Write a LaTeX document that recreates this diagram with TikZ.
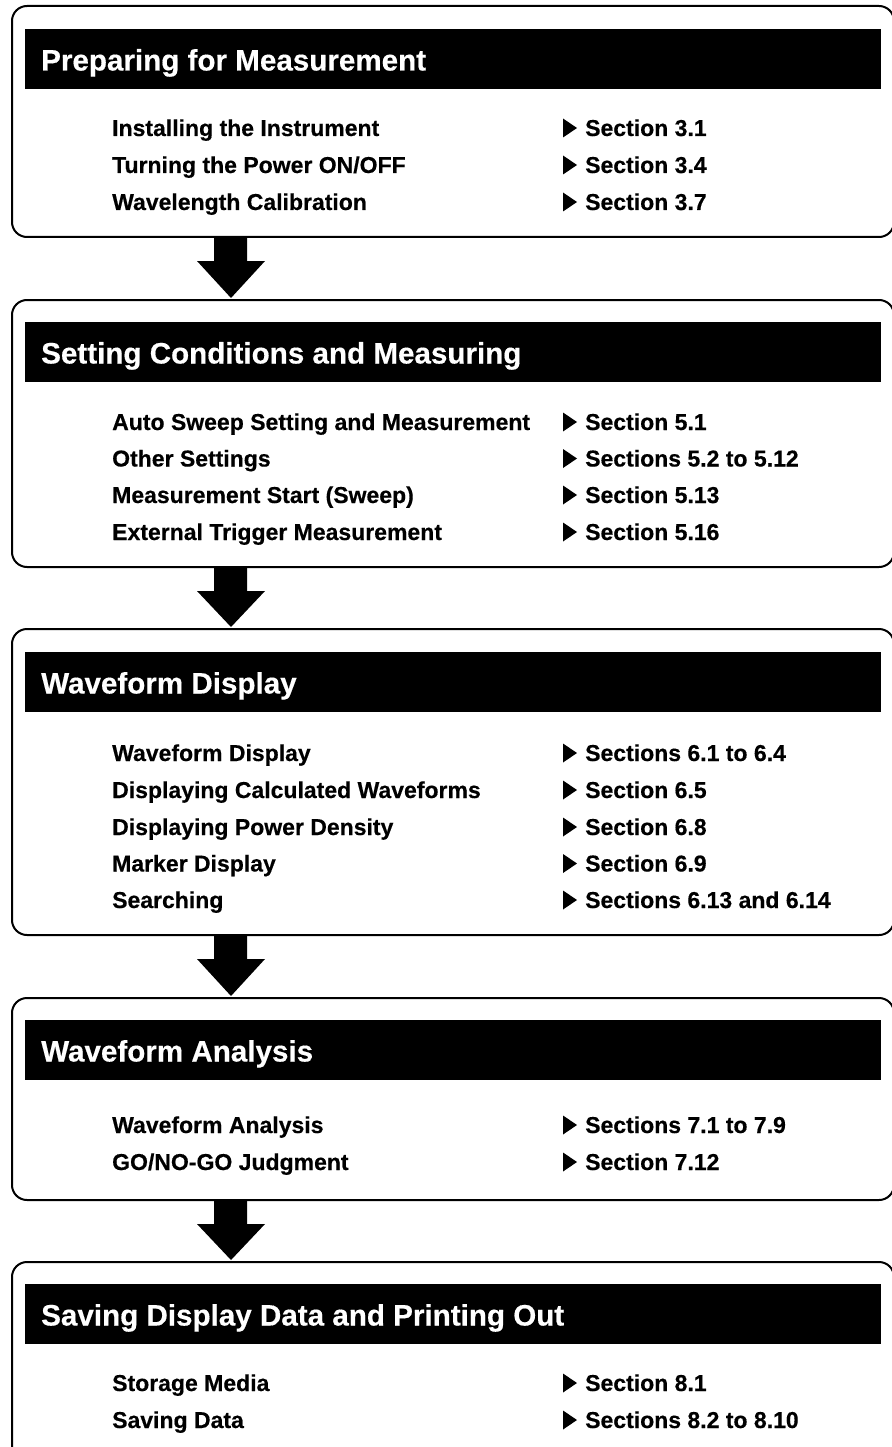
\documentclass[tikz,border=0pt]{standalone}
\usepackage{fontspec}
\setmainfont{Liberation Sans}
\newfontfamily\heavyfont[FakeBold=0.4]{Liberation Sans Bold}
\usetikzlibrary{calc}
\tikzset{
  box/.style={draw=black, line width=2pt, rounded corners=15pt, fill=white,
    inner sep=0pt, outer sep=0pt, anchor=north west, minimum width=882pt},
  hdrbar/.style={fill=black, inner sep=0pt, outer sep=0pt, anchor=north west,
    minimum width=856pt, minimum height=60pt},
  hdrtxt/.style={text=white, inner sep=0pt, anchor=base west,
    font=\heavyfont\fontsize{29.6}{34}\selectfont},
  itm/.style={text=black, inner sep=0pt, anchor=base west,
    font=\heavyfont\fontsize{23}{27}\selectfont},
  flowarrow/.style={fill=black},
  pointer/.style={fill=black}
}
\newcommand\itemrow[5]{% name, y, left text, right text
  \node[itm] (l#1) at (112,#2+8) {#3};
  \fill[pointer] (563,#2-9.5) -- (577,#2) -- (563,#2+9.5) -- cycle;
  \node[itm] (r#1) at (585,#2+8) {#4};
}
\begin{document}
\begin{tikzpicture}[x=1pt,y=-1pt]
\useasboundingbox (0,0) rectangle (891,1447);
% boxes
\node[box, minimum height=231pt] (b1) at (12,6) {};
\node[box, minimum height=267pt] (b2) at (12,300) {};
\node[box, minimum height=306pt] (b3) at (12,629) {};
\node[box, minimum height=202pt] (b4) at (12,998) {};
\node[box, minimum height=219pt] (b5) at (12,1262) {};
% headers
\node[hdrbar] (h1) at (25,29) {};
\node[hdrbar] (h2) at (25,322) {};
\node[hdrbar] (h3) at (25,652) {};
\node[hdrbar] (h4) at (25,1020) {};
\node[hdrbar] (h5) at (25,1284) {};
\node[hdrtxt] (t1) at ($(h1.north west)+(16,41.5)$) {Preparing for Measurement};
\node[hdrtxt] (t2) at ($(h2.north west)+(16,41.5)$) {Setting Conditions and Measuring};
\node[hdrtxt] (t3) at ($(h3.north west)+(16,41.5)$) {Waveform Display};
\node[hdrtxt] (t4) at ($(h4.north west)+(16,41.5)$) {Waveform Analysis};
\node[hdrtxt] (t5) at ($(h5.north west)+(16,41.5)$) {Saving Display Data and Printing Out};
% items
\itemrow{11}{128}{Installing the Instrument}{Section 3.1}{}
\itemrow{12}{165}{Turning the Power ON/OFF}{Section 3.4}{}
\itemrow{13}{202}{Wavelength Calibration}{Section 3.7}{}
\itemrow{21}{422}{Auto Sweep Setting and Measurement}{Section 5.1}{}
\itemrow{22}{458.5}{Other Settings}{Sections 5.2 to 5.12}{}
\itemrow{23}{495}{Measurement Start (Sweep)}{Section 5.13}{}
\itemrow{24}{532}{External Trigger Measurement}{Section 5.16}{}
\itemrow{31}{753}{Waveform Display}{Sections 6.1 to 6.4}{}
\itemrow{32}{790}{Displaying Calculated Waveforms}{Section 6.5}{}
\itemrow{33}{827}{Displaying Power Density}{Section 6.8}{}
\itemrow{34}{863.5}{Marker Display}{Section 6.9}{}
\itemrow{35}{900}{Searching}{Sections 6.13 and 6.14}{}
\itemrow{41}{1125}{Waveform Analysis}{Sections 7.1 to 7.9}{}
\itemrow{42}{1162}{GO/NO-GO Judgment}{Section 7.12}{}
\itemrow{51}{1383}{Storage Media}{Section 8.1}{}
\itemrow{52}{1420}{Saving Data}{Sections 8.2 to 8.10}{}
% arrows between boxes
\foreach \a/\b in {b1/b2,b2/b3,b3/b4,b4/b5}{
  \fill[flowarrow] ($(\a.south west)+(202,0)$) -- ++(0,24) -- ++(-17,0)
    -- ($(\b.north west)+(219,-2)$) -- ($(\a.south west)+(253,24)$)
    -- ++(-18,0) -- ++(0,-24) -- cycle;
}
\end{tikzpicture}
\end{document}
